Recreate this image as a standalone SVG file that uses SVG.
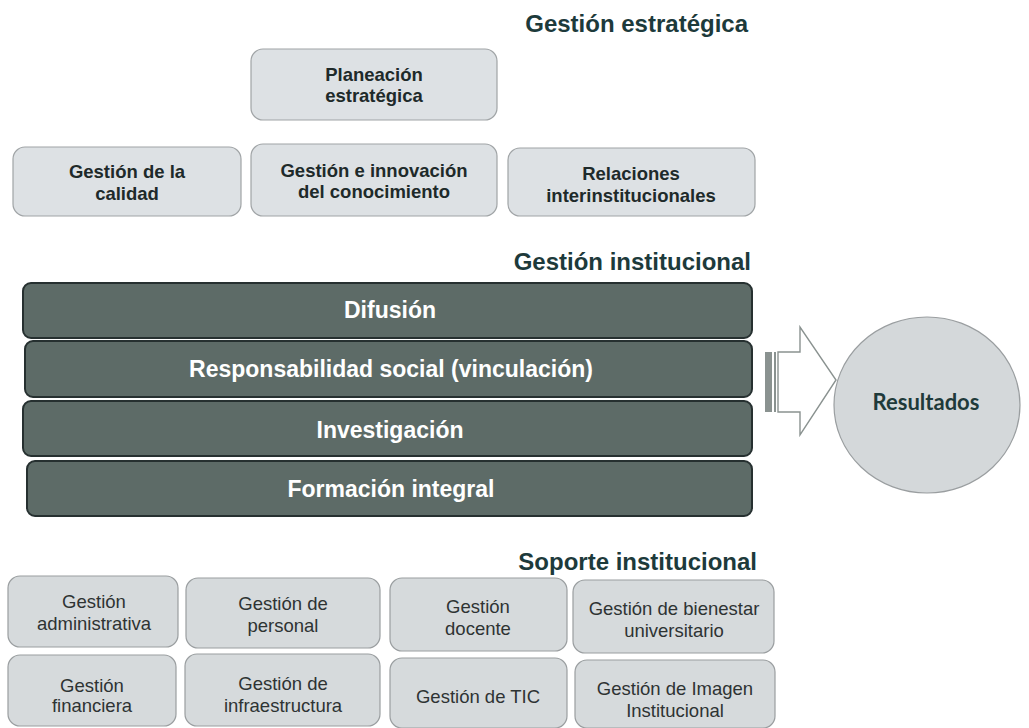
<svg xmlns="http://www.w3.org/2000/svg" width="1029" height="728" viewBox="0 0 1029 728">
<style>
.h{font-family:"Liberation Sans",Arial,sans-serif;font-weight:bold;font-size:24px;fill:#1d3a3b;text-anchor:end}
.lb{fill:#dde1e4;stroke:#a0a4a6;stroke-width:1.2}
.lt{font-family:"Liberation Sans",Arial,sans-serif;font-weight:bold;font-size:18.5px;fill:#1e2a2a;text-anchor:middle}
.bar{fill:#5d6b67;stroke:#263030;stroke-width:2}
.bt{font-family:"Liberation Sans",Arial,sans-serif;font-weight:bold;font-size:23px;fill:#ffffff;text-anchor:middle}
.sb{fill:#d6dadc;stroke:#9a9ea0;stroke-width:1.2}
.st{font-family:"Liberation Sans",Arial,sans-serif;font-size:18.5px;fill:#2e3333;text-anchor:middle}
</style>
<rect width="1029" height="728" fill="#ffffff"/>
<text class="h" x="748" y="32">Gestión estratégica</text>
<g id="planeacion"><rect class="lb" x="251" y="49" width="246" height="71" rx="12"/><text class="lt" x="374" y="81">Planeación</text><text class="lt" x="374" y="102">estratégica</text></g>
<g id="calidad"><rect class="lb" x="13" y="147" width="228" height="69" rx="12"/><text class="lt" x="127" y="178">Gestión de la</text><text class="lt" x="127" y="200">calidad</text></g>
<g id="conocimiento"><rect class="lb" x="251" y="144" width="246" height="72" rx="12"/><text class="lt" x="374" y="177">Gestión e innovación</text><text class="lt" x="374" y="198">del conocimiento</text></g>
<g id="relaciones"><rect class="lb" x="508" y="148" width="247" height="68" rx="12"/><text class="lt" x="631" y="180">Relaciones</text><text class="lt" x="631" y="202">interinstitucionales</text></g>
<text class="h" x="751" y="270">Gestión institucional</text>
<g id="difusion"><rect class="bar" x="23" y="283" width="729" height="55" rx="8"/><text class="bt" x="390" y="318">Difusión</text></g>
<g id="responsabilidad"><rect class="bar" x="25" y="341" width="727" height="56" rx="8"/><text class="bt" x="391" y="377">Responsabilidad social (vinculación)</text></g>
<g id="investigacion"><rect class="bar" x="23" y="401" width="729" height="55" rx="8"/><text class="bt" x="390" y="438">Investigación</text></g>
<g id="formacion"><rect class="bar" x="27" y="461" width="725" height="55" rx="8"/><text class="bt" x="391" y="497">Formación integral</text></g>
<g id="connectors">
<path d="M778 352 H800 V327 L836 380 L800 435 V412 H778 Z" fill="#ffffff" stroke="#8a9290" stroke-width="1.4"/>
<rect x="765" y="352" width="7" height="60" fill="#8a9290"/>
<rect x="774" y="352" width="2" height="60" fill="#8a9290"/>
</g>
<g id="resultados"><ellipse cx="927" cy="405" rx="93" ry="88" fill="#d4d8da" stroke="#9a9ea0" stroke-width="1.2"/><text x="926" y="410" font-family="Lato,'Open Sans',sans-serif" font-weight="bold" font-size="22" fill="#1f3a3a" text-anchor="middle">Resultados</text></g>
<text class="h" x="757" y="570">Soporte institucional</text>
<g id="administrativa"><rect class="sb" x="8" y="576" width="170" height="71" rx="12"/><text class="st" x="94" y="608">Gestión</text><text class="st" x="94" y="630">administrativa</text></g>
<g id="personal"><rect class="sb" x="186" y="578" width="194" height="70" rx="12"/><text class="st" x="283" y="610">Gestión de</text><text class="st" x="283" y="632">personal</text></g>
<g id="docente"><rect class="sb" x="390" y="578" width="177" height="73" rx="12"/><text class="st" x="478" y="613">Gestión</text><text class="st" x="478" y="635">docente</text></g>
<g id="bienestar"><rect class="sb" x="573" y="580" width="201" height="73" rx="12"/><text class="st" x="674" y="615">Gestión de bienestar</text><text class="st" x="674" y="637">universitario</text></g>
<g id="financiera"><rect class="sb" x="8" y="655" width="168" height="71" rx="12"/><text class="st" x="92" y="692">Gestión</text><text class="st" x="92" y="712">financiera</text></g>
<g id="infraestructura"><rect class="sb" x="185" y="654" width="195" height="72" rx="12"/><text class="st" x="283" y="690">Gestión de</text><text class="st" x="283" y="712">infraestructura</text></g>
<g id="tic"><rect class="sb" x="390" y="658" width="177" height="70" rx="12"/><text class="st" x="478" y="703">Gestión de TIC</text></g>
<g id="imagen"><rect class="sb" x="575" y="660" width="200" height="68" rx="12"/><text class="st" x="675" y="695">Gestión de Imagen</text><text class="st" x="675" y="717">Institucional</text></g>
</svg>
